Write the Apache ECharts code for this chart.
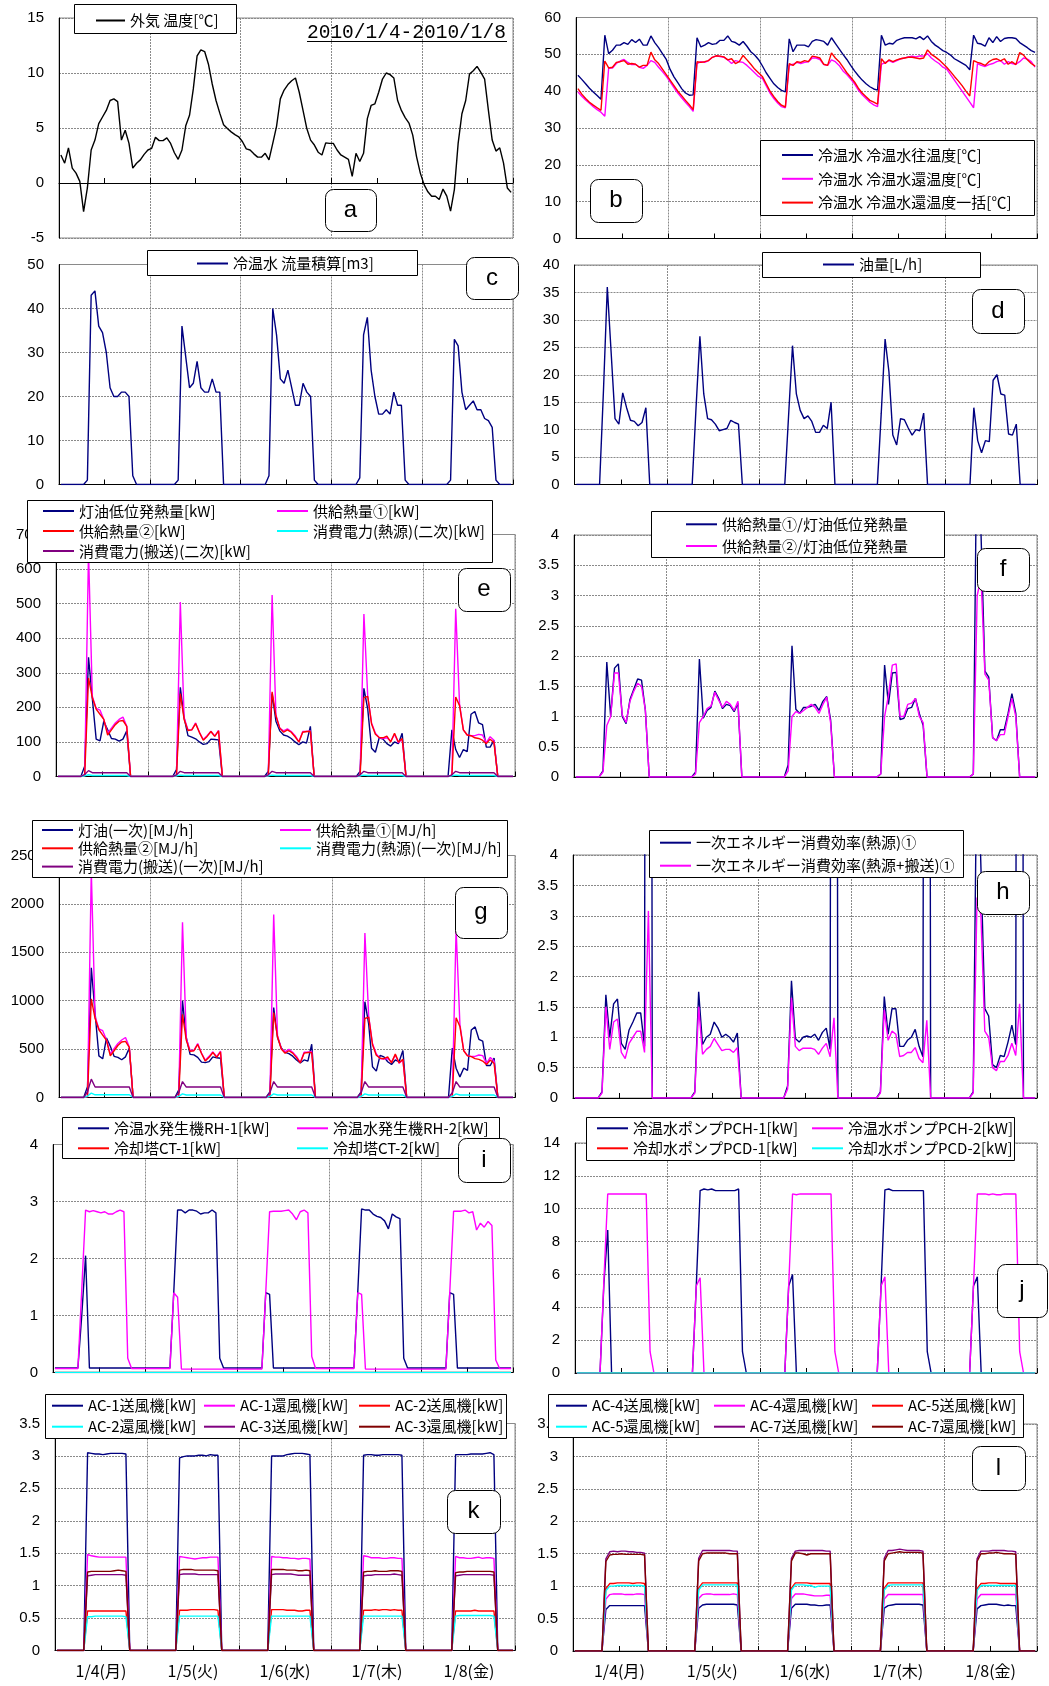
<!DOCTYPE html>
<html>
<head>
<meta charset="utf-8">
<script src="https://cdn.jsdelivr.net/npm/echarts@6/dist/echarts.min.js"></script>
<style>
html, body { margin: 0; padding: 0; background: #fff; }
#chart { width: 1049px; height: 1686px; }
</style>
</head>
<body>
<div id="chart"></div>
<script>
// ---- labels ----
const DAY_LABELS = ['1/4(月)', '1/5(火)', '1/6(水)', '1/7(木)', '1/8(金)'];
const PERIOD = '2010/1/4-2010/1/8';
const TAGS = ['a', 'b', 'c', 'd', 'e', 'f', 'g', 'h', 'i', 'j', 'k', 'l'];

// ---- hourly values, 1/4 0:00 .. 1/8 23:00 (one row per day) ----
// a: outdoor air temperature [°C]
const outdoorTemp = [
  2.55,1.8,3.2,1.35,0.9,0.15,-2.6,-0.45,3.0,3.9,5.4,6.0,6.6,7.5,7.65,7.4,3.9,4.8,3.6,1.35,1.8,2.1,2.6,3.0,
  3.15,4.15,3.85,3.85,4.1,3.6,2.75,2.15,3.0,5.2,6.15,8.55,11.55,12.1,11.95,10.8,9.0,7.5,6.35,5.3,4.95,4.65,4.4,4.2,
  3.75,3.1,3.0,2.65,2.35,2.35,2.7,2.1,3.6,5.15,7.65,8.45,8.95,9.3,9.55,8.25,6.6,4.95,3.9,3.45,2.8,2.55,3.65,3.6,
  3.6,3.0,2.55,2.35,2.15,0.6,2.7,1.95,2.7,5.85,7.05,7.2,8.25,9.45,10.0,9.85,9.55,7.5,6.6,5.95,5.45,4.35,2.4,0.9,
  -0.15,-0.8,-1.2,-1.2,-1.5,-0.55,-1.2,-2.55,-0.6,3.6,6.3,7.5,9.9,10.2,10.6,10.05,9.45,6.6,3.9,2.9,3.2,1.8,-0.45,-0.85
];

// b: hot water supply / return temperatures [°C]
const hwSupplyTemp = [
  44.3,43.2,42,40.8,39.8,38.8,37.8,55.2,50.2,51.1,52.5,52.5,53.2,52.7,54,53.2,54.1,52.5,52.5,55,53.2,51.8,50.2,48.6,
  45.9,43.9,42.3,40.7,39.5,38.9,39,54.5,52,52.5,53.2,52.7,52.9,53.8,53.8,55,53.5,53.2,52.5,53.5,52.2,50.7,49.8,48.6,
  46.9,45,43.5,42,41,40.2,39.8,54.2,50.7,52.5,52.5,52.5,52,53.5,54,53.8,53.5,52.5,54.5,53,51.5,50,48.6,47,
  45.5,44.2,43,42,41.2,40.6,40.3,55.2,52.5,53,52.8,53.8,54.2,54.5,54.5,54.5,54.2,54.8,54,55,53.5,52.5,51.8,51,
  50.5,49.8,48.8,48.2,47.6,47,45.8,55.2,53,52.8,52.2,54.5,53.2,54.8,53.5,54.3,54.5,54.5,54.3,53.2,52.5,51.8,51,50.5
];
const hwReturnTemp = [
  39.8,38.6,37.6,36.7,35.8,35,34.3,33.2,46.3,46.3,47.5,48.2,48.6,47.8,47.2,47.3,46.5,46.2,47,48.3,47.8,46.5,45.3,44,
  42.5,41,39.5,38.2,37,35.8,34.5,47.5,48,47.8,48.3,49.2,49.6,49.4,49.2,48.5,47.5,48.3,48,47.8,47,46,45,44,
  43.5,41.5,39.5,38,36.8,35.8,35.5,47,47.3,47.8,47.5,47.8,48,49,49,48.6,47.2,47,48.5,48,47,45.5,44.5,43.3,
  42,40.3,39,38,37,36.3,35.8,47.3,47.8,48.3,47.8,48.3,48.8,49,49.3,49.5,49.3,49.6,49.5,50.2,49,48.2,47.5,46.5,
  46,44.5,43,41.5,40,38.5,37,35.5,47.5,47,46.7,47.2,47.5,48,48.3,47.3,48,47.5,47.3,48,49,48.7,48,46.5
];
const hwReturnTempAll = [
  40.7,39.2,38,37,36.2,35.5,34.8,48.2,46.3,46.5,47.8,48,48.3,47.3,47.5,47.3,46.5,47,47,50.6,48.5,47.5,46,44.5,
  43,41.5,40,38.8,37.5,36.3,35,48,47.8,48,48.3,49.2,49.6,49.5,49.3,48.5,48.8,47.5,48,49.7,48.5,47.3,46,45,
  44,42,40,38.5,37.2,36.2,35.7,47.5,47,48,47.8,48.3,48,49.5,49.3,49,47.3,47,50.4,49,48,46.5,45,43.8,
  42.5,40.8,39.5,38.5,37.5,37,36.5,48.8,47.5,48.5,48,48.5,48.8,49,49.2,49.2,49,48.8,49,51.2,50,49.3,48.5,47.5,
  46.5,45.3,44,42.8,41.5,40,38.7,48.3,47.8,47.5,47,48,48.6,48.8,48.2,48.8,47.3,48,47.2,50.5,49.8,48.5,47.5,46.8
];

// c: hot water flow, hourly total [m3]
const hwFlow = [
  0,0,0,0,0,0,0,1,43,44,36,34.5,30,22,20,20,21,21,20,2,0,0,0,0,
  0,0,0,0,0,0,0,1,36,29,22,23,28,22,21,21,24,21,21,0,0,0,0,0,
  0,0,0,0,0,0,0,2,40,34,24,23,26,22,18,18,23,21,20,1,0,0,0,0,
  0,0,0,0,0,0,0,1.5,34,38,26,20,16,16,17,16,21,18,18,1,0,0,0,0,
  0,0,0,0,0,0,0,1,33,31.5,21,17,18,19,17,17,15,14.5,13,1,0,0,0,0
];

// d: fuel oil consumption [L/h]
const oilFlow = [
  0,0,0,0,0,0,0,17,36,24,12,11,16.7,14,11.7,11.5,10.7,11.3,14,0,0,0,0,0,
  0,0,0,0,0,0,0,14,27,16.5,12,11.8,11,9.8,10,10.2,11.7,11.3,11,0,0,0,0,0,
  0,0,0,0,0,0,0,12.7,25.3,16.5,13.5,12,12.5,11.5,9.5,9.5,10.8,10.2,15,0,0,0,0,0,
  0,0,0,0,0,0,0,13,26.5,20.5,9,7.2,12,11.8,10.3,9,10,9.8,13,0,0,0,0,0,
  0,0,0,0,0,0,0,14,8,5.8,8,7.8,19,20,16.5,16.3,9.2,9,11,0,0,0,0,0
];

// e: heat and power [kW]
const keroseneLHV = [
  0,0,0,0,0,0,0,30,345,225,108,103,160,135,110,108,102,108,132,0,0,0,0,0,
  0,0,0,0,0,0,0,20,258,170,118,114,109,100,93,95,108,107,106,0,0,0,0,0,
  0,0,0,0,0,0,0,15,240,160,132,120,117,110,100,92,100,97,145,0,0,0,0,0,
  0,0,0,0,0,0,0,15,255,195,82,70,112,108,95,88,100,95,125,0,0,0,0,0,
  0,0,0,0,0,0,0,135,78,55,78,72,180,188,155,150,85,85,105,0,0,0,0,0
];
const heatSupply1 = [
  0,0,0,0,0,0,0,3,650,232,197,192,165,125,140,155,165,172,145,0,0,0,0,0,
  0,0,0,0,0,0,0,2,505,170,135,135,155,128,107,118,131,117,133,0,0,0,0,0,
  0,0,0,0,0,0,0,3,525,178,140,132,138,130,118,100,130,130,132,0,0,0,0,0,
  0,0,0,0,0,0,0,1,470,232,155,125,112,110,112,102,122,98,108,0,0,0,0,0,
  0,0,0,0,0,0,0,3,485,210,135,120,118,118,122,120,98,115,105,0,0,0,0,0
];
const heatSupply2 = [
  0,0,0,0,0,0,0,2.5,285,228,195,180,165,120,135,150,160,162,145,0,0,0,0,0,
  0,0,0,0,0,0,0,2,240,165,133,135,153,127,105,116,130,116,132,0,0,0,0,0,
  0,0,0,0,0,0,0,2,245,175,140,128,135,128,115,100,128,130,130,0,0,0,0,0,
  0,0,0,0,0,0,0,1,228,232,152,122,113,112,117,100,125,100,110,0,0,0,0,0,
  0,0,0,0,0,0,0,3,230,205,135,120,118,112,110,105,95,108,98,0,0,0,0,0
];
const powerHeatSrc2 = [
  0,0,0,0,0,0,0,2,5,3,3,3,3,3,3,3,3,3,3,0,0,0,0,0,
  0,0,0,0,0,0,0,2,4,3,3,3,3,3,3,3,3,3,3,0,0,0,0,0,
  0,0,0,0,0,0,0,2,4,3,3,3,3,3,3,3,3,3,3,0,0,0,0,0,
  0,0,0,0,0,0,0,2,4,3,3,3,3,3,3,3,3,3,3,0,0,0,0,0,
  0,0,0,0,0,0,0,2,4,3,3,3,3,3,3,3,3,3,3,0,0,0,0,0
];
const powerTransport2 = [
  0,0,0,0,0,0,0,6,17,11,11,11,11,11,11,11,11,11,11,0,0,0,0,0,
  0,0,0,0,0,0,0,5,15,11,11,11,11,11,11,11,11,11,11,0,0,0,0,0,
  0,0,0,0,0,0,0,5,15,11,11,11,11,11,11,11,11,11,11,0,0,0,0,0,
  0,0,0,0,0,0,0,5,15,11,11,11,11,11,11,11,11,11,11,0,0,0,0,0,
  0,0,0,0,0,0,0,5,15,11,11,11,11,11,11,11,11,11,11,0,0,0,0,0
];

// f: supplied heat / kerosene LHV
const ratio1 = [
  0,0,0,0,0,0,0,0.1,1.9,1.0,1.8,1.87,1.0,0.88,1.28,1.45,1.62,1.6,1.1,0,0,0,0,0,
  0,0,0,0,0,0,0,0.08,1.95,0.97,1.1,1.15,1.42,1.3,1.13,1.2,1.18,1.08,1.22,0,0,0,0,0,
  0,0,0,0,0,0,0,0.2,2.17,1.12,1.05,1.15,1.15,1.17,1.2,1.1,1.25,1.33,0.95,0,0,0,0,0,
  0,0,0,0,0,0,0,0.05,1.85,1.2,1.72,1.73,0.95,0.97,1.13,1.15,1.3,1.05,0.85,0,0,0,0,0,
  0,0,0,0,0,0,0,0.05,6.2,4.0,1.75,1.65,0.65,0.6,0.78,0.78,1.05,1.38,1.05,0,0,0,0,0
];
const ratio2 = [
  0,0,0,0,0,0,0,0.08,0.85,1.0,1.72,1.72,1.03,0.9,1.25,1.42,1.55,1.5,1.1,0,0,0,0,0,
  0,0,0,0,0,0,0,0.05,0.9,1.0,1.13,1.17,1.4,1.27,1.15,1.25,1.2,1.1,1.25,0,0,0,0,0,
  0,0,0,0,0,0,0,0.1,1.0,1.08,1.05,1.1,1.15,1.2,1.15,1.05,1.2,1.32,0.9,0,0,0,0,0,
  0,0,0,0,0,0,0,0.05,1.0,1.35,1.85,1.87,1.0,1.0,1.2,1.22,1.3,1.0,0.9,0,0,0,0,0,
  0,0,0,0,0,0,0,0.05,3.0,3.3,1.7,1.6,0.65,0.6,0.7,0.7,1.0,1.3,1.0,0,0,0,0,0
];

// g: primary energy [MJ/h]
const kerosenePrimary = [
  0,0,0,0,0,0,0,110,1340,870,430,400,615,530,425,415,390,420,510,0,0,0,0,0,
  0,0,0,0,0,0,0,78,1000,620,445,440,415,365,360,370,420,410,405,0,0,0,0,0,
  0,0,0,0,0,0,0,58,930,620,512,466,454,427,388,357,388,376,550,0,0,0,0,0,
  0,0,0,0,0,0,0,58,990,757,318,272,435,419,369,341,388,369,485,0,0,0,0,0,
  0,0,0,0,0,0,0,510,303,213,303,280,698,730,601,582,330,330,407,0,0,0,0,0
];
const heatSupply1MJ = [
  0,0,0,0,0,0,0,10,2340,835,710,690,594,450,504,558,594,620,522,0,0,0,0,0,
  0,0,0,0,0,0,0,7,1810,610,486,486,558,460,385,425,472,421,479,0,0,0,0,0,
  0,0,0,0,0,0,0,10,1890,640,504,475,497,468,425,360,468,468,475,0,0,0,0,0,
  0,0,0,0,0,0,0,4,1700,835,558,450,403,396,403,367,439,353,389,0,0,0,0,0,
  0,0,0,0,0,0,0,10,1740,756,486,432,425,425,439,432,353,414,378,0,0,0,0,0
];
const heatSupply2MJ = [
  0,0,0,0,0,0,0,9,1020,816,700,645,591,430,483,537,573,580,519,0,0,0,0,0,
  0,0,0,0,0,0,0,7,860,590,476,483,548,455,376,415,465,415,472,0,0,0,0,0,
  0,0,0,0,0,0,0,7,877,627,501,458,483,458,412,358,458,465,465,0,0,0,0,0,
  0,0,0,0,0,0,0,4,816,830,544,437,405,401,419,358,448,358,394,0,0,0,0,0,
  0,0,0,0,0,0,0,10,823,734,483,430,422,401,394,376,340,387,351,0,0,0,0,0
];
const powerHeatSrc1 = [
  0,0,0,0,0,0,0,15,45,28,28,28,28,28,28,28,28,28,28,0,0,0,0,0,
  0,0,0,0,0,0,0,12,38,26,26,26,26,26,26,26,26,26,26,0,0,0,0,0,
  0,0,0,0,0,0,0,12,38,26,26,26,26,26,26,26,26,26,26,0,0,0,0,0,
  0,0,0,0,0,0,0,12,38,26,26,26,26,26,26,26,26,26,26,0,0,0,0,0,
  0,0,0,0,0,0,0,12,38,26,26,26,26,26,26,26,26,26,26,0,0,0,0,0
];
const powerTransport1 = [
  0,0,0,0,0,0,0,60,190,108,108,108,108,108,108,108,108,108,108,0,0,0,0,0,
  0,0,0,0,0,0,0,50,165,108,108,108,108,108,108,108,108,108,108,0,0,0,0,0,
  0,0,0,0,0,0,0,50,165,108,108,108,108,108,108,108,108,108,108,0,0,0,0,0,
  0,0,0,0,0,0,0,50,165,108,108,108,108,108,108,108,108,108,108,0,0,0,0,0,
  0,0,0,0,0,0,0,50,165,108,108,108,108,108,108,108,108,108,108,0,0,0,0,0
];

// h: primary energy efficiency
const effHeatSrc = [
  0,0,0,0,0,0,0,0.1,1.7,1.0,1.55,1.63,0.9,0.8,1.12,1.25,1.4,1.4,0.85,50,0,0,0,0,
  0,0,0,0,0,0,0,0.1,1.75,0.88,1.0,1.05,1.25,1.15,1.0,1.05,1.0,0.92,1.07,0,0,0,0,0,
  0,0,0,0,0,0,0,0.2,1.93,0.98,0.92,1.0,1.02,1.0,1.05,0.95,1.08,1.15,0.8,40,0,0,0,0,
  0,0,0,0,0,0,0,0.1,1.67,1.05,1.47,1.47,0.85,0.85,0.95,1.0,1.13,0.85,0.68,40,0,0,0,0,
  0,0,0,0,0,0,0,0.1,6,3.8,1.47,1.35,0.55,0.5,0.7,0.68,0.92,1.2,0.88,40,0,0,0,0
];
const effHeatSrcTransport = [
  0,0,0,0,0,0,0,0.08,1.5,0.8,1.25,1.3,0.75,0.65,0.9,1.0,1.1,1.1,0.75,3.08,0,0,0,0,
  0,0,0,0,0,0,0,0.08,1.5,0.72,0.8,0.85,0.98,0.88,0.78,0.8,0.8,0.75,0.83,0,0,0,0,0,
  0,0,0,0,0,0,0,0.15,1.65,0.85,0.78,0.82,0.82,0.82,0.8,0.72,0.82,0.9,0.68,1.32,0,0,0,0,
  0,0,0,0,0,0,0,0.08,1.45,0.95,1.1,1.05,0.68,0.7,0.75,0.75,0.83,0.65,0.58,1.28,0,0,0,0,
  0,0,0,0,0,0,0,0.08,3.3,3.0,1.1,1.0,0.5,0.45,0.6,0.6,0.7,0.9,0.7,1.55,0,0,0,0
];

// i: absorption chiller-heaters and cooling towers [kW]
const rh1Power = [
  0.08,0.08,0.08,0.08,0.08,0.08,0.08,1.0,2.05,0.08,0.08,0.08,0.08,0.08,0.08,0.08,0.08,0.08,0.08,0.08,0.08,0.08,0.08,0.08,
  0.08,0.08,0.08,0.08,0.08,0.08,0.08,1.4,2.85,2.85,2.8,2.85,2.85,2.83,2.78,2.8,2.8,2.85,2.8,0.25,0.08,0.08,0.08,0.08,
  0.08,0.08,0.08,0.08,0.08,0.08,0.08,1.4,1.37,0.08,0.08,0.08,0.08,0.08,0.08,0.08,0.08,0.08,0.08,0.08,0.08,0.08,0.08,0.08,
  0.08,0.08,0.08,0.08,0.08,0.08,0.08,1.4,2.87,2.85,2.85,2.78,2.74,2.72,2.66,2.52,2.78,2.73,2.7,0.25,0.08,0.08,0.08,0.08,
  0.08,0.08,0.08,0.08,0.08,0.08,0.08,1.4,1.37,0.08,0.08,0.08,0.08,0.08,0.08,0.08,0.08,0.08,0.08,0.08,0.08,0.08,0.08,0.08
];
const rh2Power = [
  0.07,0.07,0.07,0.07,0.07,0.07,0.07,1.45,2.85,2.82,2.84,2.82,2.8,2.82,2.78,2.78,2.82,2.85,2.82,0.25,0.07,0.07,0.07,0.07,
  0.07,0.07,0.07,0.07,0.07,0.07,0.07,1.4,1.32,0.06,0.06,0.06,0.06,0.06,0.06,0.06,0.06,0.06,0.06,0.06,0.06,0.06,0.06,0.06,
  0.06,0.06,0.06,0.06,0.06,0.06,0.06,1.4,2.82,2.83,2.83,2.83,2.84,2.85,2.78,2.68,2.82,2.85,2.8,0.28,0.07,0.07,0.07,0.07,
  0.07,0.07,0.07,0.07,0.07,0.07,0.07,1.4,1.37,0.06,0.06,0.06,0.06,0.06,0.06,0.06,0.06,0.06,0.06,0.06,0.06,0.06,0.06,0.06,
  0.06,0.06,0.06,0.06,0.06,0.06,0.06,1.4,2.83,2.83,2.83,2.85,2.8,2.82,2.5,2.62,2.55,2.65,2.58,0.22,0.07,0.07,0.07,0.07
];
const ct1Power = [
  0,0,0,0,0,0,0,0,0,0,0,0,0,0,0,0,0,0,0,0,0,0,0,0,
  0,0,0,0,0,0,0,0,0,0,0,0,0,0,0,0,0,0,0,0,0,0,0,0,
  0,0,0,0,0,0,0,0,0,0,0,0,0,0,0,0,0,0,0,0,0,0,0,0,
  0,0,0,0,0,0,0,0,0,0,0,0,0,0,0,0,0,0,0,0,0,0,0,0,
  0,0,0,0,0,0,0,0,0,0,0,0,0,0,0,0,0,0,0,0,0,0,0,0
];
const ct2Power = [
  0,0,0,0,0,0,0,0,0,0,0,0,0,0,0,0,0,0,0,0,0,0,0,0,
  0,0,0,0,0,0,0,0,0,0,0,0,0,0,0,0,0,0,0,0,0,0,0,0,
  0,0,0,0,0,0,0,0,0,0,0,0,0,0,0,0,0,0,0,0,0,0,0,0,
  0,0,0,0,0,0,0,0,0,0,0,0,0,0,0,0,0,0,0,0,0,0,0,0,
  0,0,0,0,0,0,0,0,0,0,0,0,0,0,0,0,0,0,0,0,0,0,0,0
];

// j: hot water and cooling water pumps [kW]
const pch1Power = [
  0,0,0,0,0,0,0,5.4,8.7,0,0,0,0,0,0,0,0,0,0,0,0,0,0,0,
  0,0,0,0,0,0,0,5.3,11.1,11.2,11.15,11.2,11.1,11.1,11.1,11.1,11.1,11.1,11.2,1.3,0,0,0,0,
  0,0,0,0,0,0,0,5.3,6.0,0,0,0,0,0,0,0,0,0,0,0,0,0,0,0,
  0,0,0,0,0,0,0,5.3,11.15,11.2,11.1,11.1,11.1,11.1,11.1,11.1,11.1,11.1,11.1,1.3,0,0,0,0,
  0,0,0,0,0,0,0,5.3,5.85,0,0,0,0,0,0,0,0,0,0,0,0,0,0,0
];
const pch2Power = [
  0,0,0,0,0,0,0,5.6,10.9,10.9,10.9,10.9,10.9,10.9,10.9,10.9,10.9,10.9,10.9,1.3,0,0,0,0,
  0,0,0,0,0,0,0,5.3,5.8,0,0,0,0,0,0,0,0,0,0,0,0,0,0,0,
  0,0,0,0,0,0,0,5.3,10.9,10.85,10.9,10.9,10.9,10.9,10.9,10.9,10.9,10.9,10.9,1.3,0,0,0,0,
  0,0,0,0,0,0,0,5.3,5.85,0,0,0,0,0,0,0,0,0,0,0,0,0,0,0,
  0,0,0,0,0,0,0,5.3,10.9,10.9,10.9,10.85,10.9,10.85,10.85,10.9,10.9,10.9,10.9,1.3,0,0,0,0
];
const pcd1Power = [
  0,0,0,0,0,0,0,0,0,0,0,0,0,0,0,0,0,0,0,0,0,0,0,0,
  0,0,0,0,0,0,0,0,0,0,0,0,0,0,0,0,0,0,0,0,0,0,0,0,
  0,0,0,0,0,0,0,0,0,0,0,0,0,0,0,0,0,0,0,0,0,0,0,0,
  0,0,0,0,0,0,0,0,0,0,0,0,0,0,0,0,0,0,0,0,0,0,0,0,
  0,0,0,0,0,0,0,0,0,0,0,0,0,0,0,0,0,0,0,0,0,0,0,0
];
const pcd2Power = [
  0,0,0,0,0,0,0,0,0,0,0,0,0,0,0,0,0,0,0,0,0,0,0,0,
  0,0,0,0,0,0,0,0,0,0,0,0,0,0,0,0,0,0,0,0,0,0,0,0,
  0,0,0,0,0,0,0,0,0,0,0,0,0,0,0,0,0,0,0,0,0,0,0,0,
  0,0,0,0,0,0,0,0,0,0,0,0,0,0,0,0,0,0,0,0,0,0,0,0,
  0,0,0,0,0,0,0,0,0,0,0,0,0,0,0,0,0,0,0,0,0,0,0,0
];

// k: AC-1..AC-3 supply / return fans [kW]
const ac1Supply = [
  0,0,0,0,0,0,0,0,3.05,3.04,3.03,3.03,3.02,3.03,3.04,3.04,3.04,3.04,3.03,0,0,0,0,0,
  0,0,0,0,0,0,0,0,2.97,2.99,3.0,3.0,3.0,3.01,3.01,3.0,3.02,3.01,3.01,0,0,0,0,0,
  0,0,0,0,0,0,0,0,3.0,3.0,3.0,3.0,3.02,3.03,3.04,3.04,3.04,3.03,3.02,0,0,0,0,0,
  0,0,0,0,0,0,0,0,3.01,3.02,3.02,3.01,3.01,3.02,3.02,3.02,3.02,3.02,3.01,0,0,0,0,0,
  0,0,0,0,0,0,0,0,3.02,3.02,3.02,3.02,3.03,3.03,3.03,3.03,3.04,3.05,3.02,0,0,0,0,0
];
const ac1Return = [
  0,0,0,0,0,0,0,0,1.48,1.46,1.45,1.44,1.44,1.44,1.44,1.44,1.44,1.44,1.44,0,0,0,0,0,
  0,0,0,0,0,0,0,0,1.45,1.44,1.43,1.42,1.41,1.42,1.43,1.43,1.44,1.44,1.44,0,0,0,0,0,
  0,0,0,0,0,0,0,0,1.45,1.44,1.44,1.43,1.43,1.42,1.42,1.41,1.42,1.42,1.41,0,0,0,0,0,
  0,0,0,0,0,0,0,0,1.46,1.45,1.43,1.43,1.43,1.42,1.42,1.43,1.43,1.42,1.42,0,0,0,0,0,
  0,0,0,0,0,0,0,0,1.45,1.43,1.43,1.42,1.42,1.43,1.44,1.42,1.43,1.43,1.42,0,0,0,0,0
];
const ac2Supply = [
  0,0,0,0,0,0,0,0,0.61,0.61,0.61,0.61,0.61,0.61,0.61,0.61,0.61,0.61,0.61,0,0,0,0,0,
  0,0,0,0,0,0,0,0,0.62,0.62,0.62,0.63,0.63,0.63,0.63,0.63,0.63,0.63,0.62,0,0,0,0,0,
  0,0,0,0,0,0,0,0,0.63,0.63,0.63,0.63,0.62,0.62,0.62,0.61,0.61,0.62,0.62,0,0,0,0,0,
  0,0,0,0,0,0,0,0,0.62,0.62,0.62,0.63,0.62,0.63,0.63,0.62,0.63,0.62,0.62,0,0,0,0,0,
  0,0,0,0,0,0,0,0,0.61,0.61,0.61,0.61,0.61,0.62,0.61,0.61,0.61,0.61,0.61,0,0,0,0,0
];
const ac2Return = [
  0,0,0,0,0,0,0,0,0.52,0.52,0.53,0.53,0.53,0.53,0.53,0.53,0.53,0.53,0.52,0,0,0,0,0,
  0,0,0,0,0,0,0,0,0.53,0.53,0.53,0.53,0.53,0.53,0.53,0.53,0.53,0.53,0.53,0,0,0,0,0,
  0,0,0,0,0,0,0,0,0.53,0.53,0.53,0.53,0.53,0.53,0.53,0.53,0.53,0.53,0.53,0,0,0,0,0,
  0,0,0,0,0,0,0,0,0.53,0.53,0.53,0.53,0.53,0.53,0.53,0.53,0.53,0.53,0.53,0,0,0,0,0,
  0,0,0,0,0,0,0,0,0.53,0.54,0.54,0.54,0.54,0.54,0.54,0.54,0.54,0.54,0.53,0,0,0,0,0
];
const ac3Supply = [
  0,0,0,0,0,0,0,0,1.15,1.16,1.17,1.17,1.17,1.17,1.17,1.17,1.17,1.17,1.16,0,0,0,0,0,
  0,0,0,0,0,0,0,0,1.17,1.18,1.18,1.18,1.18,1.17,1.17,1.17,1.17,1.17,1.17,0,0,0,0,0,
  0,0,0,0,0,0,0,0,1.17,1.18,1.18,1.18,1.18,1.18,1.17,1.16,1.16,1.16,1.16,0,0,0,0,0,
  0,0,0,0,0,0,0,0,1.15,1.16,1.16,1.17,1.17,1.17,1.17,1.17,1.18,1.17,1.16,0,0,0,0,0,
  0,0,0,0,0,0,0,0,1.15,1.16,1.17,1.17,1.17,1.17,1.17,1.17,1.17,1.17,1.16,0,0,0,0,0
];
const ac3Return = [
  0,0,0,0,0,0,0,0,1.21,1.22,1.22,1.22,1.22,1.22,1.22,1.23,1.24,1.23,1.22,0,0,0,0,0,
  0,0,0,0,0,0,0,0,1.24,1.25,1.25,1.25,1.24,1.24,1.24,1.24,1.24,1.24,1.23,0,0,0,0,0,
  0,0,0,0,0,0,0,0,1.25,1.25,1.25,1.25,1.24,1.24,1.24,1.23,1.23,1.24,1.23,0,0,0,0,0,
  0,0,0,0,0,0,0,0,1.21,1.22,1.22,1.23,1.22,1.22,1.22,1.23,1.23,1.23,1.22,0,0,0,0,0,
  0,0,0,0,0,0,0,0,1.2,1.21,1.21,1.22,1.22,1.22,1.22,1.22,1.22,1.22,1.21,0,0,0,0,0
];

// l: AC-4, AC-5, AC-7 supply / return fans [kW]
const ac4Supply = [
  0,0,0,0,0,0,0,0,0.64,0.7,0.7,0.7,0.7,0.7,0.7,0.7,0.7,0.7,0.7,0,0,0,0,0,
  0,0,0,0,0,0,0,0,0.66,0.71,0.72,0.72,0.72,0.72,0.72,0.72,0.72,0.72,0.71,0,0,0,0,0,
  0,0,0,0,0,0,0,0,0.66,0.72,0.72,0.72,0.72,0.71,0.71,0.7,0.7,0.71,0.71,0,0,0,0,0,
  0,0,0,0,0,0,0,0,0.66,0.7,0.71,0.72,0.72,0.72,0.72,0.72,0.72,0.72,0.71,0,0,0,0,0,
  0,0,0,0,0,0,0,0,0.65,0.7,0.71,0.72,0.72,0.72,0.71,0.7,0.71,0.7,0.7,0,0,0,0,0
];
const ac4Return = [
  0,0,0,0,0,0,0,0,0.8,0.87,0.88,0.88,0.88,0.87,0.87,0.87,0.88,0.88,0.87,0,0,0,0,0,
  0,0,0,0,0,0,0,0,0.81,0.87,0.88,0.88,0.87,0.87,0.87,0.87,0.87,0.88,0.87,0,0,0,0,0,
  0,0,0,0,0,0,0,0,0.81,0.88,0.88,0.88,0.87,0.86,0.85,0.85,0.85,0.86,0.86,0,0,0,0,0,
  0,0,0,0,0,0,0,0,0.8,0.87,0.87,0.87,0.87,0.87,0.87,0.87,0.87,0.87,0.87,0,0,0,0,0,
  0,0,0,0,0,0,0,0,0.8,0.87,0.87,0.87,0.87,0.87,0.87,0.87,0.87,0.87,0.87,0,0,0,0,0
];
const ac5Supply = [
  0,0,0,0,0,0,0,0,0.96,1.04,1.04,1.05,1.05,1.05,1.05,1.04,1.05,1.05,1.04,0,0,0,0,0,
  0,0,0,0,0,0,0,0,0.97,1.05,1.05,1.05,1.05,1.05,1.05,1.05,1.05,1.05,1.05,0,0,0,0,0,
  0,0,0,0,0,0,0,0,0.97,1.05,1.05,1.05,1.05,1.04,1.04,1.04,1.04,1.04,1.04,0,0,0,0,0,
  0,0,0,0,0,0,0,0,0.97,1.05,1.05,1.05,1.05,1.05,1.05,1.05,1.05,1.05,1.05,0,0,0,0,0,
  0,0,0,0,0,0,0,0,0.96,1.04,1.04,1.05,1.05,1.05,1.04,1.04,1.04,1.04,1.04,0,0,0,0,0
];
const ac5Return = [
  0,0,0,0,0,0,0,0,0.93,1.0,1.0,1.01,1.01,1.01,1.01,1.01,1.01,1.01,1.0,0,0,0,0,0,
  0,0,0,0,0,0,0,0,0.94,1.02,1.02,1.02,1.02,1.02,1.02,1.02,1.02,1.02,1.02,0,0,0,0,0,
  0,0,0,0,0,0,0,0,0.94,1.02,1.02,1.02,1.01,1.01,0.98,1.0,1.0,1.0,1.0,0,0,0,0,0,
  0,0,0,0,0,0,0,0,0.94,1.01,1.02,1.02,1.02,1.02,1.02,1.02,1.02,1.02,1.02,0,0,0,0,0,
  0,0,0,0,0,0,0,0,0.93,1.01,1.01,1.01,1.01,1.01,1.01,1.01,1.01,1.01,1.01,0,0,0,0,0
];
const ac7Supply = [
  0,0,0,0,0,0,0,0,1.42,1.53,1.54,1.53,1.54,1.54,1.53,1.53,1.52,1.52,1.51,0,0,0,0,0,
  0,0,0,0,0,0,0,0,1.43,1.55,1.55,1.55,1.55,1.55,1.55,1.55,1.55,1.54,1.54,0,0,0,0,0,
  0,0,0,0,0,0,0,0,1.43,1.54,1.55,1.55,1.55,1.55,1.55,1.55,1.55,1.54,1.54,0,0,0,0,0,
  0,0,0,0,0,0,0,0,1.43,1.55,1.55,1.56,1.57,1.56,1.55,1.55,1.55,1.55,1.54,0,0,0,0,0,
  0,0,0,0,0,0,0,0,1.42,1.54,1.54,1.54,1.55,1.55,1.55,1.55,1.54,1.54,1.53,0,0,0,0,0
];
const ac7Return = [
  0,0,0,0,0,0,0,0,1.38,1.48,1.49,1.49,1.5,1.49,1.49,1.49,1.49,1.49,1.48,0,0,0,0,0,
  0,0,0,0,0,0,0,0,1.39,1.5,1.51,1.51,1.51,1.51,1.51,1.51,1.5,1.5,1.5,0,0,0,0,0,
  0,0,0,0,0,0,0,0,1.39,1.51,1.51,1.5,1.48,1.5,1.5,1.5,1.5,1.5,1.5,0,0,0,0,0,
  0,0,0,0,0,0,0,0,1.39,1.5,1.51,1.52,1.53,1.52,1.52,1.52,1.52,1.52,1.51,0,0,0,0,0,
  0,0,0,0,0,0,0,0,1.38,1.5,1.5,1.51,1.51,1.52,1.51,1.5,1.5,1.5,1.49,0,0,0,0,0
];

// ---- styling ----
const JP = '"Noto Sans CJK JP", "Noto Sans", sans-serif';
const NUM = '"Liberation Sans", Arial, sans-serif';
const COL = {
  black: '#000000', navy: '#000080', mag: '#ff00ff', red: '#ff0000',
  cyan: '#00ffff', purple: '#800080', maroon: '#800000'
};
const GRID_LINE = '#8a8a8a';

// panel layout: plot rect [left, top, width, height], y range [min, max, step],
// legend frame + columns (series indices), tag box
const panels = [
  { grid: [59, 18, 454, 220], y: [-5, 15, 5],
    lines: [['外気 温度[℃]', outdoorTemp, COL.black]],
    frame: [74, 4, 162, 29], cols: [[96, [0]]], rowY: 20.5, pitch: 20, sample: 29,
    tag: [325, 189, 51, 42] },
  { grid: [576, 17.5, 461, 221], y: [0, 60, 10],
    lines: [['冷温水 冷温水往温度[℃]', hwSupplyTemp, COL.navy],
            ['冷温水 冷温水還温度[℃]', hwReturnTemp, COL.mag],
            ['冷温水 冷温水還温度一括[℃]', hwReturnTempAll, COL.red]],
    frame: [760, 140, 274, 75], cols: [[782, [0, 1, 2]]], rowY: 155, pitch: 23.8,
    tag: [590, 179, 52, 43] },
  { grid: [59, 264.5, 454, 220], y: [0, 50, 10],
    lines: [['冷温水 流量積算[m3]', hwFlow, COL.navy]],
    frame: [147, 250, 270, 25], cols: [[197, [0]]], rowY: 263.5, pitch: 20,
    tag: [466, 257, 52, 42] },
  { grid: [574.5, 265, 463, 219.5], y: [0, 40, 5],
    lines: [['油量[L/h]', oilFlow, COL.navy]],
    frame: [762, 252, 218, 25], cols: [[823, [0]]], rowY: 264.5, pitch: 20,
    tag: [972, 289, 52, 44] },
  { grid: [56, 534.5, 459, 242], y: [0, 700, 100],
    lines: [['灯油低位発熱量[kW]', keroseneLHV, COL.navy],
            ['供給熱量①[kW]', heatSupply1, COL.mag],
            ['供給熱量②[kW]', heatSupply2, COL.red],
            ['消費電力(熱源)(二次)[kW]', powerHeatSrc2, COL.cyan],
            ['消費電力(搬送)(二次)[kW]', powerTransport2, COL.purple]],
    frame: [27, 500, 465, 62], cols: [[43, [0, 2, 4]], [277, [1, 3]]], rowY: 511, pitch: 20,
    tag: [458, 568, 52, 43] },
  { grid: [574, 535, 463, 242], y: [0, 4, 0.5],
    lines: [['供給熱量①/灯油低位発熱量', ratio1, COL.navy],
            ['供給熱量②/灯油低位発熱量', ratio2, COL.mag]],
    frame: [651, 511, 293, 46], cols: [[686, [0, 1]]], rowY: 524.3, pitch: 21.7,
    tag: [977, 548, 52, 43] },
  { grid: [59, 855.5, 456, 242], y: [0, 2500, 500],
    lines: [['灯油(一次)[MJ/h]', kerosenePrimary, COL.navy],
            ['供給熱量①[MJ/h]', heatSupply1MJ, COL.mag],
            ['供給熱量②[MJ/h]', heatSupply2MJ, COL.red],
            ['消費電力(熱源)(一次)[MJ/h]', powerHeatSrc1, COL.cyan],
            ['消費電力(搬送)(一次)[MJ/h]', powerTransport1, COL.purple]],
    frame: [32, 820, 475, 57], cols: [[42, [0, 2, 4]], [280, [1, 3]]], rowY: 830, pitch: 18.3,
    tag: [455, 887, 52, 51] },
  { grid: [573, 855, 464, 243], y: [0, 4, 0.5],
    lines: [['一次エネルギー消費効率(熱源)①', effHeatSrc, COL.navy],
            ['一次エネルギー消費効率(熱源+搬送)①', effHeatSrcTransport, COL.mag]],
    frame: [649, 830, 314, 47], cols: [[660, [0, 1]]], rowY: 842.7, pitch: 23,
    tag: [977, 871, 52, 43] },
  { grid: [53, 1144.5, 460, 228], y: [0, 4, 1],
    lines: [['冷温水発生機RH-1[kW]', rh1Power, COL.navy],
            ['冷温水発生機RH-2[kW]', rh2Power, COL.mag],
            ['冷却塔CT-1[kW]', ct1Power, COL.red],
            ['冷却塔CT-2[kW]', ct2Power, COL.cyan]],
    frame: [62, 1117, 437, 41], cols: [[78, [0, 2]], [297, [1, 3]]], rowY: 1128.3, pitch: 20,
    tag: [458, 1138, 52, 44] },
  { grid: [575, 1143, 462, 230], y: [0, 14, 2],
    lines: [['冷温水ポンプPCH-1[kW]', pch1Power, COL.navy],
            ['冷温水ポンプPCH-2[kW]', pch2Power, COL.mag],
            ['冷却水ポンプPCD-1[kW]', pcd1Power, COL.red],
            ['冷却水ポンプPCD-2[kW]', pcd2Power, COL.cyan]],
    frame: [586, 1117, 428, 43], cols: [[597, [0, 2]], [812, [1, 3]]], rowY: 1128.3, pitch: 20,
    tag: [997, 1264, 50, 53] },
  { grid: [55, 1423.5, 460, 227], y: [0, 3.5, 0.5], days: true,
    lines: [['AC-1送風機[kW]', ac1Supply, COL.navy],
            ['AC-1還風機[kW]', ac1Return, COL.mag],
            ['AC-2送風機[kW]', ac2Supply, COL.red],
            ['AC-2還風機[kW]', ac2Return, COL.cyan],
            ['AC-3送風機[kW]', ac3Supply, COL.purple],
            ['AC-3還風機[kW]', ac3Return, COL.maroon]],
    frame: [45, 1394, 461, 44], cols: [[52, [0, 3]], [204, [1, 4]], [359, [2, 5]]], rowY: 1405.7, pitch: 21,
    tag: [447, 1490, 53, 43] },
  { grid: [573, 1424, 464, 227], y: [0, 3.5, 0.5], days: true,
    lines: [['AC-4送風機[kW]', ac4Supply, COL.navy],
            ['AC-4還風機[kW]', ac4Return, COL.mag],
            ['AC-5送風機[kW]', ac5Supply, COL.red],
            ['AC-5還風機[kW]', ac5Return, COL.cyan],
            ['AC-7送風機[kW]', ac7Supply, COL.purple],
            ['AC-7還風機[kW]', ac7Return, COL.maroon]],
    frame: [548, 1394, 475, 43], cols: [[556, [0, 3]], [714, [1, 4]], [872, [2, 5]]], rowY: 1405.7, pitch: 21,
    tag: [972, 1446, 53, 44] }
];

// hourly samples are plotted at the middle of each hour
function hourly(arr) { return arr.map((v, i) => [i + 0.5, v]); }

const grid = [], xAxis = [], yAxis = [], series = [], legend = [], elements = [];
const LINE_H = 18;

panels.forEach((p, k) => {
  const [gl, gt, gw, gh] = p.grid;
  grid.push({
    left: gl, top: gt, width: gw, height: gh,
    show: true, borderColor: GRID_LINE, borderWidth: 1, backgroundColor: '#fff',
    containLabel: false, outerBoundsMode: 'none'
  });
  const xi = xAxis.length;
  xAxis.push({
    gridIndex: k, type: 'value', min: 0, max: 120, interval: 24,
    axisLabel: { show: false },
    axisLine: { show: true, onZero: true, lineStyle: { color: '#000', width: 1 } },
    axisTick: { show: true, inside: true, length: 5, lineStyle: { color: '#000' } },
    minorTick: { show: true, splitNumber: 2, length: 5, lineStyle: { color: '#000' } },
    splitLine: { show: true, lineStyle: { color: GRID_LINE, width: 1, type: [2, 1] } }
  });
  if (p.days) {
    xAxis.push({
      gridIndex: k, type: 'category', data: DAY_LABELS, position: 'bottom', boundaryGap: true,
      axisLine: { show: false }, axisTick: { show: false }, splitLine: { show: false },
      axisLabel: { fontSize: 16, fontFamily: JP, color: '#000', margin: 12 }
    });
  }
  yAxis.push({
    gridIndex: k, type: 'value', min: p.y[0], max: p.y[1], interval: p.y[2],
    axisLine: { show: true, onZero: false, lineStyle: { color: '#000', width: 1 } },
    axisTick: { show: false },
    axisLabel: { fontSize: 15, fontFamily: NUM, color: '#000', margin: 15,
                 formatter: v => String(v) },
    splitLine: { show: true, lineStyle: { color: GRID_LINE, width: 1, type: [2, 1] } }
  });
  p.lines.forEach(([name, arr, color]) => {
    series.push({
      type: 'line', name, xAxisIndex: xi, yAxisIndex: k,
      data: hourly(arr), symbol: 'none', showSymbol: false, silent: true,
      animation: false, clip: true, z: 2,
      lineStyle: { color, width: 1.4 }, itemStyle: { color }
    });
  });

  // legend frame and columns
  const [fx, fy, fw, fh] = p.frame;
  elements.push({
    type: 'rect', z: 9,
    shape: { x: Math.round(fx) + 0.5, y: Math.round(fy) + 0.5, width: fw, height: fh },
    style: { fill: '#fff', stroke: '#000', lineWidth: 1 }
  });
  p.cols.forEach(([cx, idx]) => {
    legend.push({
      show: true, orient: 'vertical', left: cx, top: p.rowY - LINE_H / 2,
      padding: 0, itemGap: p.pitch - LINE_H, itemWidth: p.sample || 31, itemHeight: 2,
      icon: 'rect', selectedMode: false, z: 10,
      textStyle: { fontSize: 15, fontFamily: JP, color: '#000', lineHeight: LINE_H },
      data: idx.map(i => p.lines[i][0])
    });
  });

  // panel tag
  const [tx, ty, tw, th] = p.tag;
  elements.push({
    type: 'rect', z: 9,
    shape: { x: Math.round(tx) + 0.5, y: Math.round(ty) + 0.5, width: tw, height: th, r: 8 },
    style: { fill: '#fff', stroke: '#000', lineWidth: 1 }
  });
  elements.push({
    type: 'text', z: 10, x: tx + tw / 2, y: ty + th / 2,
    style: { text: TAGS[k], fontSize: 24, fontFamily: NUM, fill: '#000', align: 'center', verticalAlign: 'middle' }
  });
});

// period caption inside the first panel
elements.push({
  type: 'text', z: 10, x: 307, y: 32.5,
  style: { text: PERIOD, fontSize: 19.5, fontFamily: '"Liberation Mono", "DejaVu Sans Mono", monospace',
           fill: '#000', align: 'left', verticalAlign: 'middle' }
});
elements.push({
  type: 'line', z: 10,
  shape: { x1: 307, y1: 41.5, x2: 507, y2: 41.5 },
  style: { stroke: '#000', lineWidth: 1 }
});

const chart = echarts.init(document.getElementById('chart'), null, { renderer: 'canvas', width: 1049, height: 1686 });
chart.setOption({
  backgroundColor: '#fff',
  animation: false,
  grid, xAxis, yAxis, series, legend,
  graphic: { elements }
});
</script>
</body>
</html>
